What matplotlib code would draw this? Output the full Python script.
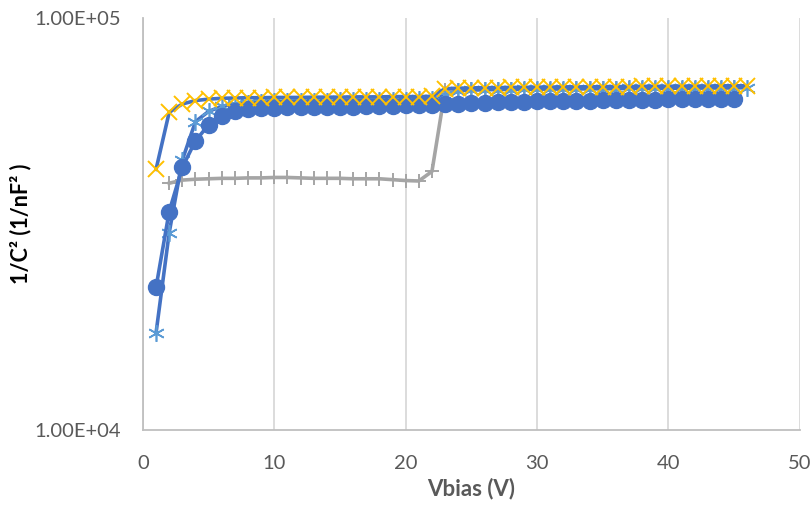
import numpy as np
import matplotlib
matplotlib.use('Agg')
import matplotlib.pyplot as plt

plt.rcParams['font.family'] = ['Lato', 'DejaVu Sans']

# Serie con circulos (azul)
v_circ = list(range(1, 46))
c_circ = [22200, 33900, 43400, 50300, 55000, 57800, 59300, 60000, 60300, 60500,
          60600, 60700, 60700, 60800, 60800, 60900, 61000, 61100, 61200, 61300,
          61400, 61500, 61700, 61900, 62100, 62300, 62400, 62500, 62600, 62700,
          62800, 62900, 63000, 63000, 63100, 63200, 63200, 63300, 63300, 63400,
          63400, 63500, 63500, 63600, 63700]

# Serie con asteriscos (azul claro)
v_ast = list(range(1, 47))
c_ast = [17200, 30100, 45200, 56000, 59300, 61000, 61800, 62200, 62500, 62700,
         62800, 62900, 63000, 63000, 63100, 63100, 63200, 63200, 63300, 63300,
         63400, 63500, 65000, 66500, 66800, 66900, 67000, 67000, 67100, 67100,
         67200, 67200, 67200, 67300, 67300, 67300, 67400, 67400, 67400, 67500,
         67500, 67500, 67600, 67600, 67600, 67700]

# Serie gris con cruces
v_gris = list(range(2, 46))
c_gris = [39700, 40400, 40600, 40700, 40800, 40800, 40900, 40900, 41000, 41000,
          40900, 40800, 40800, 40800, 40700, 40700, 40700, 40500, 40300, 40200,
          42400, 66800, 67000, 67100, 67100, 67200, 67200, 67200, 67300, 67300,
          67300, 67400, 67400, 67400, 67500, 67500, 67500, 67600, 67600, 67600,
          67700, 67700, 67700, 67800]

# Serie amarilla con aspas
v_am = list(range(1, 47))
c_am = [42900, 59000, 61800, 63000, 63500, 63800, 63900, 64000, 64000, 64100,
        64100, 64100, 64200, 64200, 64200, 64300, 64300, 64300, 64400, 64400,
        64400, 64500, 67300, 67500, 67600, 67700, 67700, 67800, 67800, 67900,
        67900, 68000, 68000, 68000, 68100, 68100, 68100, 68200, 68200, 68200,
        68300, 68300, 68300, 68400, 68400, 68400]

azul = '#4472C4'
fig = plt.figure(figsize=(8.12, 5.09), dpi=100)
ax = fig.add_axes([0.176, 0.155, 0.809, 0.81])

ax.plot(v_gris, c_gris, color='#A5A5A5', lw=2.6, marker='+', ms=10, mew=1.4,
        mec='#A5A5A5', zorder=3)
ax.plot(v_ast, c_ast, color=azul, lw=2.6, marker=(6, 2, 0), ms=12, mew=1.2,
        mec='#5B9BD5', zorder=4)
ax.plot(v_circ, c_circ, color=azul, lw=2.6, marker='o', ms=11.5, mec=azul,
        mfc=azul, zorder=5)
ax.plot(v_am, c_am, color=azul, lw=2.6, marker='x', ms=11, mew=1.4,
        mec='#FFC000', zorder=6)

ax.set_yscale('log')
ax.set_ylim(1e4, 1e5)
ax.set_xlim(0, 50)
ax.set_xticks([0, 10, 20, 30, 40, 50])
ax.set_yticks([1e4, 1e5])
ax.set_yticklabels(['1.00E+04', '1.00E+05'])
ax.yaxis.set_minor_locator(matplotlib.ticker.NullLocator())
ax.grid(axis='x', color='#D9D9D9', lw=1.3)
ax.set_axisbelow(True)

for s in ['top', 'right']:
    ax.spines[s].set_visible(False)
for s in ['left', 'bottom']:
    ax.spines[s].set_color('#BFBFBF')
    ax.spines[s].set_linewidth(1.3)

ax.tick_params(axis='both', length=0, labelsize=14.5, colors='#595959')
ax.tick_params(axis='x', pad=18)
ax.tick_params(axis='y', pad=16)

ax.set_xlabel('Vbias (V)', fontsize=16, fontweight='bold', color='#595959', labelpad=4)
ax.set_ylabel('1/C² (1/nF² )', fontsize=15.5, fontweight='bold', color='#000000', labelpad=2)

fig.savefig('out.png', dpi=100)
